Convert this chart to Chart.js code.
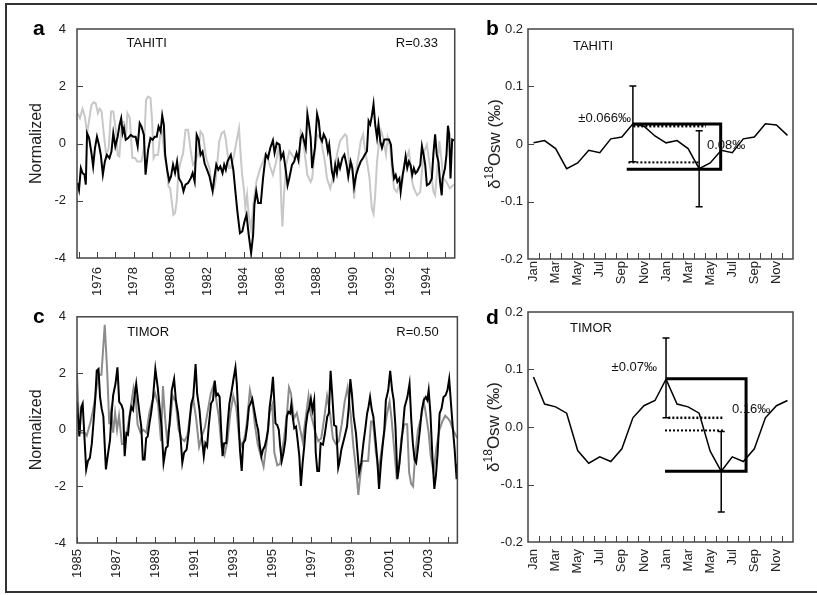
<!DOCTYPE html>
<html>
<head>
<meta charset="utf-8">
<script src="https://cdn.jsdelivr.net/npm/chart.js@4.4.0/dist/chart.umd.min.js"></script>
<style>
  body { margin: 0; background: #fff; }
  #fig { position: relative; width: 817px; height: 595px; overflow: hidden; }
  #frame { position: absolute; left: 5px; top: 3px; width: 830px; height: 586px; border: 2px solid #333; }
  canvas { position: absolute; }
  .tag { position: absolute; font: bold 21px "Liberation Sans", Arial, sans-serif; line-height: 1; color: #000; }
</style>
</head>
<body>
<div id="fig">
  <div id="frame"></div>
  <canvas id="chartA" width="470" height="298" style="left:0;top:0"></canvas>
  <canvas id="chartB" width="347" height="298" style="left:470px;top:0"></canvas>
  <canvas id="chartC" width="470" height="297" style="left:0;top:298px"></canvas>
  <canvas id="chartD" width="347" height="297" style="left:470px;top:298px"></canvas>
  <div class="tag" style="left:33px;top:17px">a</div>
  <div class="tag" style="left:486px;top:17px">b</div>
  <div class="tag" style="left:33px;top:305px">c</div>
  <div class="tag" style="left:486px;top:306px">d</div>
</div>
<script>
// ---- data ----
// Tahiti: coral record (black) and instrumental record (light grey), normalized, [decimal year, value]
const tahitiCoral = [[1974.93,-1.38],[1975.02,-1.62],[1975.12,-0.86],[1975.21,-1.03],[1975.32,-1.09],[1975.39,-1.44],[1975.46,0.36],[1975.57,0.19],[1975.70,-0.34],[1975.79,-0.80],[1975.89,-0.16],[1976.00,0.24],[1976.11,-0.05],[1976.21,-0.40],[1976.32,-1.09],[1976.43,-0.63],[1976.54,-0.40],[1976.68,-0.51],[1976.79,-0.28],[1976.89,0.36],[1977.00,-0.10],[1977.13,0.24],[1977.23,0.65],[1977.32,0.88],[1977.40,0.36],[1977.47,0.53],[1977.57,0.13],[1977.70,0.19],[1977.84,0.30],[1977.97,0.24],[1978.11,0.24],[1978.22,-0.10],[1978.33,0.71],[1978.43,0.59],[1978.56,0.30],[1978.65,-1.09],[1978.79,-0.22],[1978.92,0.19],[1979.04,0.13],[1979.15,0.24],[1979.26,0.24],[1979.36,0.59],[1979.47,0.42],[1979.56,0.98],[1979.65,0.65],[1979.72,-0.40],[1979.83,-0.92],[1979.94,-1.30],[1980.04,-1.15],[1980.15,-0.74],[1980.26,-1.03],[1980.37,-0.63],[1980.47,-1.21],[1980.62,-1.38],[1980.72,-1.67],[1980.83,-1.44],[1980.97,-1.38],[1981.12,-1.21],[1981.22,-1.03],[1981.33,-1.33],[1981.44,0.30],[1981.55,0.13],[1981.65,-0.40],[1981.76,-0.28],[1981.87,-0.69],[1982.01,-0.92],[1982.14,-1.15],[1982.31,-1.67],[1982.40,-1.21],[1982.51,-0.74],[1982.62,-0.92],[1982.73,-0.80],[1982.85,-1.03],[1982.94,-0.74],[1983.03,-0.92],[1983.12,-0.63],[1983.21,-0.51],[1983.30,-0.40],[1983.44,-0.92],[1983.57,-1.79],[1983.66,-2.37],[1983.80,-3.13],[1983.93,-3.07],[1984.05,-2.72],[1984.16,-2.49],[1984.28,-3.19],[1984.41,-3.83],[1984.52,-3.19],[1984.59,-2.14],[1984.69,-1.67],[1984.80,-2.08],[1984.94,-2.08],[1985.06,-1.22],[1985.21,-0.39],[1985.33,-0.51],[1985.46,-0.15],[1985.60,0.11],[1985.69,-0.33],[1985.81,0.02],[1985.96,-0.04],[1986.05,-0.51],[1986.17,-0.33],[1986.31,-0.98],[1986.40,-1.46],[1986.49,-1.22],[1986.64,-0.75],[1986.76,-0.63],[1986.89,-0.33],[1986.99,-0.57],[1987.12,0.20],[1987.21,0.32],[1987.39,-0.15],[1987.48,1.03],[1987.57,0.67],[1987.66,0.20],[1987.74,-0.86],[1987.89,-0.15],[1988.01,1.03],[1988.10,0.79],[1988.19,0.20],[1988.28,0.08],[1988.37,0.32],[1988.50,0.14],[1988.60,-0.27],[1988.67,-0.04],[1988.82,-0.98],[1988.91,-1.22],[1989.00,-0.75],[1989.09,-1.04],[1989.17,-0.63],[1989.26,-0.86],[1989.39,-0.51],[1989.50,-0.39],[1989.62,-0.75],[1989.71,-1.16],[1989.84,-0.63],[1989.93,-0.86],[1990.03,-1.51],[1990.14,-1.10],[1990.25,-0.86],[1990.39,-0.63],[1990.52,-0.51],[1990.61,-0.39],[1990.73,-0.27],[1990.82,0.79],[1990.91,0.67],[1991.00,0.97],[1991.09,1.38],[1991.18,0.67],[1991.28,0.20],[1991.36,0.67],[1991.46,0.08],[1991.55,-0.15],[1991.68,0.14],[1991.82,0.14],[1991.93,0.14],[1992.04,-0.04],[1992.12,-0.75],[1992.21,-1.22],[1992.30,-1.10],[1992.39,-1.34],[1992.50,-1.22],[1992.57,-1.69],[1992.68,-1.10],[1992.75,-0.86],[1992.84,-0.45],[1992.93,-0.86],[1993.02,-0.63],[1993.11,-0.75],[1993.20,-1.10],[1993.29,-0.86],[1993.38,-1.04],[1993.47,-0.98],[1993.64,-0.75],[1993.73,-0.09],[1993.82,-0.39],[1993.91,-0.75],[1994.00,-1.46],[1994.14,-1.40],[1994.27,-1.22],[1994.36,-0.33],[1994.45,0.32],[1994.54,-0.39],[1994.63,-0.63],[1994.72,-1.34],[1994.81,-1.81],[1994.86,-1.22],[1994.99,-0.86],[1995.07,-0.39],[1995.15,0.62],[1995.22,0.32],[1995.29,-1.22],[1995.38,0.14],[1995.52,0.10]];
const tahitiInstr = [[1974.93,1.06],[1975.07,0.88],[1975.21,1.21],[1975.34,0.94],[1975.46,0.35],[1975.70,1.35],[1975.82,1.44],[1975.93,1.41],[1976.05,1.06],[1976.14,1.21],[1976.25,1.12],[1976.36,0.42],[1976.50,-0.40],[1976.64,-0.16],[1976.77,1.12],[1976.89,1.12],[1977.04,0.42],[1977.13,-0.40],[1977.22,-0.45],[1977.36,0.77],[1977.48,0.75],[1977.57,0.13],[1977.66,1.06],[1977.79,0.90],[1977.93,-0.51],[1978.08,-0.51],[1978.20,-0.63],[1978.43,-0.63],[1978.56,-0.16],[1978.68,1.52],[1978.79,1.64],[1978.92,1.59],[1979.01,0.77],[1979.09,-0.51],[1979.18,-0.40],[1979.33,-0.40],[1979.45,0.30],[1979.54,0.42],[1979.69,-0.40],[1979.81,-0.86],[1979.90,-1.50],[1979.99,-1.56],[1980.08,-2.02],[1980.17,-2.49],[1980.26,-2.43],[1980.35,-2.02],[1980.44,-1.03],[1980.53,-0.74],[1980.62,-0.51],[1980.70,-0.34],[1980.83,0.48],[1980.97,0.48],[1981.12,-0.28],[1981.24,-0.74],[1981.37,-0.63],[1981.51,-0.40],[1981.65,0.42],[1981.78,0.30],[1981.96,-0.51],[1982.14,-0.86],[1982.26,-1.56],[1982.40,-1.56],[1982.49,-1.21],[1982.67,0.07],[1982.80,0.36],[1982.94,0.42],[1983.03,0.13],[1983.12,-0.34],[1983.21,-0.86],[1983.30,-0.86],[1983.48,-0.40],[1983.66,0.24],[1983.75,0.53],[1983.84,-0.40],[1983.92,-1.09],[1984.01,-1.56],[1984.10,-2.26],[1984.19,-1.79],[1984.28,-2.50],[1984.41,-3.00],[1984.55,-2.00],[1984.71,-1.30],[1984.91,-0.86],[1985.06,-0.63],[1985.24,-0.33],[1985.42,-0.75],[1985.60,-1.10],[1985.78,-0.63],[1985.90,-0.15],[1985.98,-0.50],[1986.07,-2.30],[1986.12,-2.90],[1986.20,-1.80],[1986.32,-0.75],[1986.50,-0.27],[1986.76,-0.51],[1986.94,-0.39],[1987.03,-0.63],[1987.12,0.44],[1987.21,0.32],[1987.39,-0.63],[1987.48,-1.10],[1987.66,-1.34],[1987.74,-1.22],[1987.83,-0.63],[1988.01,0.32],[1988.19,0.20],[1988.37,-0.39],[1988.46,-0.75],[1988.55,-1.22],[1988.73,-1.57],[1988.91,-1.10],[1989.09,-0.39],[1989.26,0.08],[1989.53,0.32],[1989.62,0.26],[1989.71,-0.39],[1989.80,-0.86],[1989.93,-0.75],[1990.03,-1.93],[1990.16,-0.86],[1990.28,-0.39],[1990.39,0.08],[1990.52,0.32],[1990.61,-0.15],[1990.79,-0.86],[1990.87,-1.22],[1991.00,-2.28],[1991.09,-2.46],[1991.18,-1.81],[1991.28,-0.63],[1991.36,-0.15],[1991.50,0.44],[1991.59,0.26],[1991.77,-0.39],[1991.86,0.20],[1992.00,-0.15],[1992.12,-1.10],[1992.21,-1.57],[1992.36,-1.69],[1992.48,-1.46],[1992.66,-1.34],[1992.75,-0.75],[1992.89,-0.51],[1993.02,-0.27],[1993.11,-0.75],[1993.20,-1.34],[1993.29,-1.57],[1993.47,-1.81],[1993.64,-1.69],[1993.73,-0.98],[1993.86,-0.27],[1994.00,-0.04],[1994.18,-0.86],[1994.27,-1.22],[1994.36,-1.69],[1994.45,-1.81],[1994.57,-0.86],[1994.68,0.08],[1994.81,-0.63],[1994.89,-1.22],[1995.07,-1.34],[1995.25,-1.57],[1995.43,-1.46],[1995.52,-1.46]];

// Timor: coral record (black) and instrumental record (grey)
const timorCoral = [[1985.00,0.99],[1985.12,-0.23],[1985.22,0.81],[1985.29,0.93],[1985.47,-1.40],[1985.56,-1.10],[1985.66,-0.99],[1985.76,-0.47],[1985.84,0.23],[1985.93,1.05],[1986.01,2.09],[1986.10,2.15],[1986.18,1.16],[1986.26,0.76],[1986.35,0.47],[1986.43,-0.70],[1986.48,-1.40],[1986.57,-0.93],[1986.69,-0.35],[1986.77,0.58],[1986.85,1.22],[1986.97,1.63],[1987.07,2.21],[1987.16,0.99],[1987.28,0.87],[1987.36,0.70],[1987.44,-0.93],[1987.53,-0.12],[1987.61,-0.17],[1987.70,0.47],[1987.78,0.81],[1987.87,0.70],[1987.95,1.22],[1988.03,1.63],[1988.12,1.05],[1988.20,0.58],[1988.29,0.12],[1988.37,-1.05],[1988.46,-1.05],[1988.54,-0.29],[1988.62,-0.23],[1988.71,0.23],[1988.79,0.58],[1988.88,1.05],[1989.01,2.15],[1989.13,1.51],[1989.21,0.93],[1989.33,0.12],[1989.43,-1.16],[1989.55,-0.64],[1989.64,-0.58],[1989.75,0.35],[1989.85,1.40],[1989.97,1.80],[1990.06,1.05],[1990.17,0.58],[1990.31,-0.35],[1990.39,-1.16],[1990.48,-0.81],[1990.61,-0.70],[1990.73,0.00],[1990.85,0.93],[1990.95,1.16],[1991.07,2.33],[1991.15,1.28],[1991.27,0.70],[1991.37,-0.12],[1991.49,-0.93],[1991.57,-0.47],[1991.66,-0.58],[1991.74,0.12],[1991.86,0.93],[1991.96,1.05],[1992.05,1.74],[1992.13,1.22],[1992.21,1.28],[1992.30,1.16],[1992.37,0.12],[1992.45,-0.93],[1992.53,-0.47],[1992.64,-0.47],[1992.70,0.12],[1992.80,0.93],[1992.92,1.40],[1993.01,1.80],[1993.11,2.21],[1993.18,1.63],[1993.26,0.47],[1993.34,-0.70],[1993.43,-1.45],[1993.51,-0.47],[1993.61,-0.35],[1993.71,0.12],[1993.80,0.81],[1993.88,0.93],[1993.97,1.10],[1994.10,0.58],[1994.19,0.23],[1994.27,0.00],[1994.36,-0.58],[1994.44,-0.93],[1994.52,-0.70],[1994.61,-0.58],[1994.69,-0.35],[1994.78,0.00],[1994.86,0.81],[1994.95,1.28],[1995.03,1.88],[1995.16,0.23],[1995.25,0.17],[1995.33,0.00],[1995.40,-0.58],[1995.48,-1.10],[1995.57,-0.81],[1995.67,-0.35],[1995.74,0.47],[1995.82,0.64],[1995.91,0.58],[1995.97,0.90],[1996.04,0.47],[1996.12,0.06],[1996.21,0.12],[1996.29,-0.35],[1996.38,-0.93],[1996.46,-1.98],[1996.55,-1.16],[1996.63,-0.58],[1996.71,0.12],[1996.80,0.58],[1996.88,0.76],[1996.97,1.10],[1997.05,0.70],[1997.14,1.05],[1997.22,-0.81],[1997.30,-1.45],[1997.39,-1.45],[1997.47,-0.47],[1997.59,-0.52],[1997.69,-0.12],[1997.81,0.47],[1997.89,0.58],[1997.98,2.09],[1998.06,1.28],[1998.16,0.17],[1998.27,0.12],[1998.37,-1.34],[1998.43,-1.16],[1998.53,-0.70],[1998.70,-0.23],[1998.82,0.12],[1998.91,0.81],[1998.99,1.80],[1999.07,1.28],[1999.16,0.47],[1999.28,-0.12],[1999.44,-1.51],[1999.55,-1.16],[1999.66,-0.47],[1999.75,0.00],[1999.85,0.58],[1999.92,0.81],[2000.00,1.16],[2000.09,0.70],[2000.17,0.47],[2000.25,-0.12],[2000.37,-1.05],[2000.46,-2.09],[2000.56,-1.16],[2000.64,-0.58],[2000.73,0.00],[2000.81,1.05],[2000.93,1.40],[2001.03,2.09],[2001.13,1.40],[2001.21,1.05],[2001.30,0.12],[2001.40,-1.74],[2001.47,-1.40],[2001.57,-0.70],[2001.67,0.00],[2001.77,0.81],[2001.91,1.16],[2002.02,1.63],[2002.11,0.35],[2002.19,-0.47],[2002.28,-1.05],[2002.36,-1.16],[2002.44,-0.70],[2002.55,0.00],[2002.65,0.70],[2002.75,1.05],[2002.85,1.16],[2002.93,1.05],[2003.00,1.40],[2003.09,0.58],[2003.19,-0.93],[2003.29,-2.09],[2003.37,-1.63],[2003.46,-0.81],[2003.56,0.58],[2003.66,0.76],[2003.76,1.16],[2003.86,1.22],[2003.96,1.40],[2004.05,1.80],[2004.13,1.05],[2004.23,0.12],[2004.33,-0.70],[2004.43,-1.74],[2004.47,-1.20]];
const timorInstr = [[1985.00,2.00],[1985.10,0.20],[1985.20,-0.10],[1985.40,-0.10],[1985.50,-0.20],[1985.70,0.30],[1985.85,0.80],[1986.00,1.50],[1986.10,1.95],[1986.25,1.95],[1986.42,3.72],[1986.55,2.00],[1986.65,0.20],[1986.75,0.70],[1986.85,-0.10],[1986.95,0.60],[1987.05,0.00],[1987.15,0.50],[1987.30,-0.50],[1987.45,-0.50],[1987.60,0.10],[1987.75,0.80],[1987.90,1.50],[1988.00,1.20],[1988.10,0.20],[1988.25,-0.10],[1988.40,0.00],[1988.55,-0.10],[1988.70,0.60],[1988.85,1.00],[1989.00,1.30],[1989.15,0.90],[1989.30,-0.40],[1989.40,1.55],[1989.50,0.50],[1989.60,-0.30],[1989.75,0.20],[1989.90,1.20],[1990.05,1.00],[1990.20,0.00],[1990.35,-0.30],[1990.50,-0.40],[1990.65,-0.20],[1990.80,0.60],[1990.95,1.10],[1991.10,0.40],[1991.25,-0.60],[1991.40,-0.20],[1991.55,0.10],[1991.70,0.70],[1991.85,1.30],[1992.00,1.60],[1992.10,1.20],[1992.25,0.50],[1992.40,-0.60],[1992.55,-0.90],[1992.70,-0.40],[1992.85,0.60],[1993.00,1.20],[1993.15,0.80],[1993.30,-0.30],[1993.45,-0.60],[1993.60,-0.20],[1993.70,0.30],[1993.85,1.40],[1994.00,0.90],[1994.10,0.20],[1994.25,-0.50],[1994.40,-0.90],[1994.55,-1.30],[1994.70,-0.50],[1994.85,0.60],[1995.00,0.90],[1995.10,-0.80],[1995.25,-1.25],[1995.40,-1.20],[1995.50,-0.70],[1995.60,-0.30],[1995.75,0.60],[1995.85,1.50],[1995.95,1.30],[1996.10,0.40],[1996.25,0.60],[1996.40,0.10],[1996.55,-0.40],[1996.70,0.40],[1996.85,1.20],[1996.95,0.60],[1997.10,0.20],[1997.20,-0.10],[1997.35,-0.40],[1997.50,-0.30],[1997.65,0.40],[1997.80,1.20],[1997.95,0.60],[1998.10,-0.30],[1998.25,-0.50],[1998.40,-0.40],[1998.55,0.20],[1998.70,1.00],[1998.85,1.50],[1999.00,0.60],[1999.15,-0.60],[1999.30,-1.50],[1999.40,-2.30],[1999.50,-1.60],[1999.60,-1.10],[1999.75,-1.10],[1999.90,-1.10],[2000.05,0.30],[2000.15,0.30],[2000.30,-0.80],[2000.45,-1.50],[2000.55,-0.90],[2000.70,-0.20],[2000.85,0.50],[2001.00,1.00],[2001.10,0.40],[2001.25,-0.80],[2001.35,-1.60],[2001.50,-1.20],[2001.60,-0.30],[2001.75,0.20],[2001.90,0.20],[2002.00,-1.50],[2002.10,-1.90],[2002.20,-2.00],[2002.30,-1.00],[2002.45,0.00],[2002.60,0.40],[2002.75,1.00],[2002.85,0.60],[2003.00,-0.10],[2003.10,-0.90],[2003.25,-1.50],[2003.40,-0.60],[2003.55,0.00],[2003.70,0.30],[2003.85,0.50],[2004.00,0.40],[2004.10,0.30],[2004.25,0.00],[2004.47,-0.30]];

// mean seasonal cycle of d18Osw, two years shown
const monthLabels = ['Jan','Feb','Mar','Apr','May','Jun','Jul','Aug','Sep','Oct','Nov','Dec',
                     'Jan','Feb','Mar','Apr','May','Jun','Jul','Aug','Sep','Oct','Nov','Dec'];
const tahitiCycle = [0.002,0.006,-0.008,-0.043,-0.033,-0.011,-0.015,0.009,0.012,0.035,0.031,0.014,
                     0.002,0.006,-0.008,-0.043,-0.033,-0.011,-0.015,0.009,0.012,0.035,0.033,0.015];
const timorCycle = [0.087,0.040,0.035,0.024,-0.041,-0.063,-0.052,-0.060,-0.038,0.016,0.037,0.046,
                    0.083,0.040,0.035,0.024,-0.042,-0.077,-0.052,-0.060,-0.038,0.016,0.037,0.046];

// error bars (month index, low, high)
const tahitiErrIdx = [9, 15];
const tahitiErrLo = [-0.031, -0.109];
const tahitiErrHi = [0.101, 0.023];
const timorErrIdx = [12, 17];
const timorErrLo = [0.016, -0.148];
const timorErrHi = [0.155, -0.008];

// amplitude brackets and dotted reference lines, [month index, value]
const tahitiBracket = [[9, 0.035], [16.95, 0.035], [16.95, -0.044], [8.44, -0.044]];
const tahitiDotHi = [[9.04, 0.031], [15.62, 0.031]];
const tahitiDotLo = [[8.59, -0.032], [14.93, -0.032]];
const timorBracket = [[12, 0.084], [19.25, 0.084], [19.25, -0.077], [11.91, -0.077]];
const timorDotHi = [[12.21, 0.016], [17.25, 0.016]];
const timorDotLo = [[11.91, -0.006], [17.34, -0.006]];

// ticks
const yearTicksA = [1975,1976,1977,1978,1979,1980,1981,1982,1983,1984,1985,1986,1987,1988,1989,1990,1991,1992,1993,1994,1995];
const yearLabelsA = [1976,1978,1980,1982,1984,1986,1988,1990,1992,1994];
const yearTicksC = [1985,1986,1987,1988,1989,1990,1991,1992,1993,1994,1995,1996,1997,1998,1999,2000,2001,2002,2003,2004];
const yearLabelsC = [1985,1987,1989,1991,1993,1995,1997,1999,2001,2003];
const normTicks = [-4, -2, 0, 2, 4];
const cycleTicks = [-0.2, -0.1, 0, 0.1, 0.2];
const cycleLabelsB = ['-0.2', '-0.1', '0', '0.1', '0.2'];
const cycleLabelsD = ['-0.2', '-0.1', '0.0', '0.1', '0.2'];

const FONT = '"Liberation Sans", Arial, sans-serif';
Chart.defaults.font.family = FONT;
Chart.defaults.color = '#222';

// box around the plot and short inward tick marks
const frameTicks = {
  id: 'frameTicks',
  afterDatasetsDraw(chart, args, opts) {
    const { ctx, chartArea: a, scales } = chart;
    ctx.save();
    ctx.strokeStyle = '#444';
    ctx.lineWidth = 1;
    ctx.beginPath();
    opts.xAt.forEach(v => {
      const px = Math.round(scales.x.getPixelForValue(v)) + 0.5;
      ctx.moveTo(px, a.bottom);
      ctx.lineTo(px, a.bottom - 6);
    });
    opts.yAt.forEach(v => {
      const py = Math.round(scales.y.getPixelForValue(v)) + 0.5;
      ctx.moveTo(a.left, py);
      ctx.lineTo(a.left + 6, py);
    });
    ctx.stroke();
    ctx.lineWidth = 1.5;
    ctx.strokeRect(a.left, a.top, a.right - a.left, a.bottom - a.top);
    ctx.restore();
  }
};

const errorBars = {
  id: 'errorBars',
  afterDatasetsDraw(chart, args, opts) {
    if (!opts.idx) return;
    const { ctx, scales: { x, y } } = chart;
    ctx.save();
    ctx.strokeStyle = '#000';
    ctx.lineWidth = 1.5;
    opts.idx.forEach((i, k) => {
      const px = x.getPixelForValue(i);
      const top = y.getPixelForValue(opts.hi[k]);
      const bot = y.getPixelForValue(opts.lo[k]);
      ctx.beginPath();
      ctx.moveTo(px, top); ctx.lineTo(px, bot);
      ctx.moveTo(px - 3.5, top); ctx.lineTo(px + 3.5, top);
      ctx.moveTo(px - 3.5, bot); ctx.lineTo(px + 3.5, bot);
      ctx.stroke();
    });
    ctx.restore();
  }
};

const notes = {
  id: 'notes',
  afterDraw(chart, args, opts) {
    const { ctx, scales: { x, y } } = chart;
    ctx.save();
    ctx.fillStyle = '#111';
    ctx.font = '13px ' + FONT;
    ctx.textBaseline = 'middle';
    opts.items.forEach(n => {
      ctx.textAlign = n.align;
      ctx.fillText(n.text, x.getPixelForValue(n.x), y.getPixelForValue(n.y));
    });
    ctx.restore();
  }
};

// y title with superscript: δ18Osw (‰)
const isoTitle = {
  id: 'isoTitle',
  afterDraw(chart, args, opts) {
    if (!opts.x) return;
    const { ctx, chartArea: a } = chart;
    const parts = [['\u03b4', 17, 0], ['18', 12, -5], ['Osw (\u2030)', 17, 0]];
    ctx.save();
    ctx.translate(opts.x, (a.top + a.bottom) / 2);
    ctx.rotate(-Math.PI / 2);
    ctx.fillStyle = '#222';
    ctx.textBaseline = 'middle';
    ctx.textAlign = 'left';
    let total = 0;
    parts.forEach(p => { ctx.font = p[1] + 'px ' + FONT; total += ctx.measureText(p[0]).width; });
    let cx = -total / 2;
    parts.forEach(p => {
      ctx.font = p[1] + 'px ' + FONT;
      ctx.fillText(p[0], cx, p[2]);
      cx += ctx.measureText(p[0]).width;
    });
    ctx.restore();
  }
};

const pts = arr => arr.map(p => ({ x: p[0], y: p[1] }));

function seriesChart(id, c) {
  return new Chart(document.getElementById(id), {
    type: 'line',
    data: {
      datasets: [
        { data: pts(c.coral), borderColor: '#000', borderWidth: 2, pointRadius: 0 },
        { data: pts(c.instr), borderColor: c.instrColor, borderWidth: 2, pointRadius: 0 }
      ]
    },
    options: {
      responsive: false, animation: false, devicePixelRatio: 1,
      layout: { padding: { left: 0, top: c.top, right: 8, bottom: 0 } },
      plugins: {
        legend: { display: false }, tooltip: { enabled: false },
        frameTicks: { xAt: c.years, yAt: [-2, 0, 2] },
        notes: { items: c.notes }
      },
      scales: {
        x: {
          type: 'linear', min: c.xmin, max: c.xmax,
          grid: { display: false, drawTicks: false }, border: { display: false },
          afterBuildTicks: ax => { ax.ticks = c.years.map(v => ({ value: v })); },
          afterFit: ax => { ax.height = c.xHeight; },
          ticks: {
            autoSkip: false, minRotation: 90, maxRotation: 90, padding: c.xPad,
            font: { size: 13 }, color: '#222',
            callback: v => c.labels.includes(v) ? String(v) : ''
          }
        },
        y: {
          min: -4, max: 4,
          grid: { display: false, drawTicks: false }, border: { display: false },
          afterBuildTicks: ax => { ax.ticks = normTicks.map(v => ({ value: v })); },
          afterFit: ax => { ax.width = 77; },
          ticks: { padding: 11, font: { size: 13 }, color: '#222', callback: v => String(v) },
          title: { display: true, text: 'Normalized', font: { size: 16 }, color: '#222', padding: { top: 27, bottom: 0 } }
        }
      }
    },
    plugins: [frameTicks, notes]
  });
}

function cycleChart(id, c) {
  return new Chart(document.getElementById(id), {
    type: 'line',
    data: {
      datasets: [
        { data: pts(c.bracket), borderColor: '#000', borderWidth: 3, pointRadius: 0, borderJoinStyle: 'miter' },
        { data: pts(c.dotHi), borderColor: '#000', borderWidth: 2.5, borderDash: [2, 2], pointRadius: 0 },
        { data: pts(c.dotLo), borderColor: '#000', borderWidth: 2, borderDash: [2, 2], pointRadius: 0 },
        { data: c.cycle.map((v, i) => ({ x: i, y: v })), borderColor: '#000', borderWidth: 1.5, pointRadius: 0 }
      ]
    },
    options: {
      responsive: false, animation: false, devicePixelRatio: 1,
      layout: { padding: { left: 0, top: c.top, right: 24, bottom: 0 } },
      plugins: {
        legend: { display: false }, tooltip: { enabled: false },
        frameTicks: { xAt: monthLabels.slice(1).map((m, i) => i + 0.5), yAt: [-0.1, 0, 0.1] },
        errorBars: { idx: c.errIdx, lo: c.errLo, hi: c.errHi },
        notes: { items: c.notes },
        isoTitle: { x: c.titleX }
      },
      scales: {
        x: {
          type: 'linear', min: -0.5, max: 23.5,
          grid: { display: false, drawTicks: false }, border: { display: false },
          afterBuildTicks: ax => { ax.ticks = monthLabels.map((m, i) => ({ value: i })); },
          afterFit: ax => { ax.height = c.xHeight; },
          ticks: {
            autoSkip: false, minRotation: 90, maxRotation: 90, padding: c.xPad,
            font: { size: 13 }, color: '#222',
            callback: (v, i) => i % 2 === 0 ? monthLabels[i] : ''
          }
        },
        y: {
          min: -0.2, max: 0.2,
          grid: { display: false, drawTicks: false }, border: { display: false },
          afterBuildTicks: ax => { ax.ticks = cycleTicks.map(v => ({ value: v })); },
          afterFit: ax => { ax.width = 58; },
          ticks: { padding: 5, font: { size: 13 }, color: '#222', callback: (v, i) => c.tickLabels[i] }
        }
      }
    },
    plugins: [frameTicks, errorBars, notes, isoTitle]
  });
}

seriesChart('chartA', {
  coral: tahitiCoral, instr: tahitiInstr, instrColor: '#c8c8c8',
  xmin: 1974.91, xmax: 1995.52, years: yearTicksA, labels: yearLabelsA,
  top: 29, xHeight: 40, xPad: 9,
  notes: [
    { text: 'TAHITI', x: 1978.71, y: 3.48, align: 'center' },
    { text: 'R=0.33', x: 1994.61, y: 3.48, align: 'right' }
  ]
});

seriesChart('chartC', {
  coral: timorCoral, instr: timorInstr, instrColor: '#8c8c8c',
  xmin: 1985, xmax: 2004.47, years: yearTicksC, labels: yearLabelsC,
  top: 13, xHeight: 52, xPad: 6,
  notes: [
    { text: 'TIMOR', x: 1988.64, y: 3.45, align: 'center' },
    { text: 'R=0.50', x: 2003.51, y: 3.45, align: 'right' }
  ]
});

cycleChart('chartB', {
  cycle: tahitiCycle, bracket: tahitiBracket, dotHi: tahitiDotHi, dotLo: tahitiDotLo,
  errIdx: tahitiErrIdx, errLo: tahitiErrLo, errHi: tahitiErrHi,
  tickLabels: cycleLabelsB, top: 29, xHeight: 39, xPad: 2, titleX: 25,
  notes: [
    { text: 'TAHITI', x: 5.39, y: 0.169, align: 'center' },
    { text: '\u00b10.066\u2030', x: 8.83, y: 0.045, align: 'right' },
    { text: '0.08\u2030', x: 15.71, y: -0.002, align: 'left' }
  ]
});

cycleChart('chartD', {
  cycle: timorCycle, bracket: timorBracket, dotHi: timorDotHi, dotLo: timorDotLo,
  errIdx: timorErrIdx, errLo: timorErrLo, errHi: timorErrHi,
  tickLabels: cycleLabelsD, top: 14, xHeight: 53, xPad: 7, titleX: 24,
  notes: [
    { text: 'TIMOR', x: 5.2, y: 0.172, align: 'center' },
    { text: '\u00b10.07\u2030', x: 11.18, y: 0.104, align: 'right' },
    { text: '0.16\u2030', x: 17.98, y: 0.031, align: 'left' }
  ]
});
</script>
</body>
</html>
